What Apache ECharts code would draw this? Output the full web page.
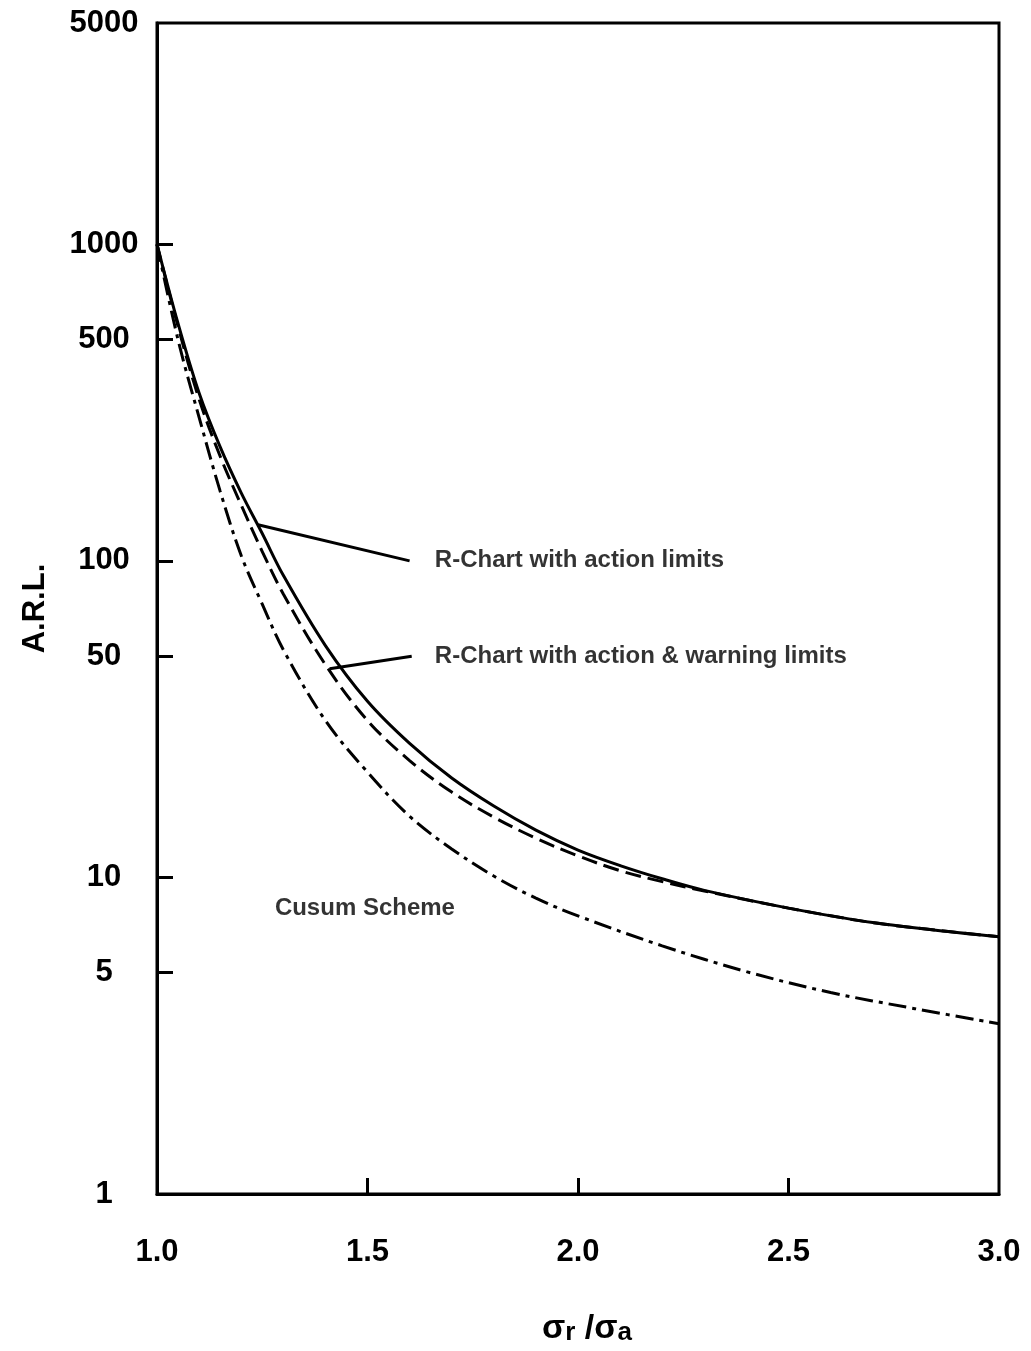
<!DOCTYPE html>
<html>
<head>
<meta charset="utf-8">
<script src="https://cdn.jsdelivr.net/npm/echarts@6/dist/echarts.min.js"></script>
<style>
html,body{margin:0;padding:0;background:#fff;}
#chart{width:1031px;height:1351px;}
</style>
</head>
<body>
<div id="chart"></div>
<script>
// ---- data ----
const sigmaR = [1.0,1.05,1.1,1.15,1.2,1.25,1.3,1.4,1.5,1.6,1.7,1.8,1.9,2.0,2.1,2.2,2.3,2.5,2.7,2.9,3.0];
const arlActionLimits = [1000,562,339,229,164,122,90,54,36,26.5,20.6,16.8,14.1,12.2,10.9,9.9,9.1,8.0,7.2,6.7,6.5];
const arlActionWarning = [1000,550,324,214,150,107,78.6,47,31.3,23.4,18.6,15.5,13.3,11.7,10.5,9.7,9.06,8.0,7.2,6.7,6.5];
const sigmaCusum = [1.0,1.05,1.1,1.15,1.2,1.25,1.3,1.4,1.5,1.6,1.7,1.8,1.9,2.0,2.2,2.4,2.6,2.8,3.0];
const arlCusum = [1000,499,284,166,104,73,52.4,31.3,21.5,15.6,12.3,10.1,8.6,7.56,6.08,5.04,4.33,3.85,3.45];

const yLabelValues = [1,5,10,50,100,500,1000,5000];
const yTickValues = [5,10,50,100,500,1000];
const xTickLabels = [1.0,1.5,2.0,2.5,3.0];
const xTickValues = [1.5,2.0,2.5];

const annotationTexts = ['R-Chart with action limits','R-Chart with action & warning limits','Cusum Scheme'];
const annotationX = [1.66,1.66,1.28];
const annotationY = [100,50,8];
const pointerFrom = [[1.24,130],[1.41,45.6]];
const pointerTo = [[1.60,100],[1.605,50]];

const FONT = '"Liberation Sans", Arial, Helvetica, sans-serif';

function pairs(xs, ys){ return xs.map((x,i)=>[x, ys[i]]); }

const chart = echarts.init(document.getElementById('chart'), null, {renderer:'canvas'});
chart.setOption({
  backgroundColor:'#fff',
  animation:false,
  grid:{left:157,right:32,top:23,bottom:152,show:true,borderColor:'#000',borderWidth:3,backgroundColor:'transparent'},
  xAxis:{
    type:'value',min:1,max:3,interval:0.5,
    axisLine:{show:true,lineStyle:{color:'#000',width:3}},
    axisTick:{show:true,inside:true,length:16,lineStyle:{color:'#000',width:3},customValues:xTickValues},
    axisLabel:{color:'#000',fontSize:31,fontWeight:'bold',fontFamily:FONT,margin:43,formatter:v=>Number(v).toFixed(1),customValues:xTickLabels},
    splitLine:{show:false},
    name:'{s|σ}{sub|r}{s| /σ}{sub|a}',
    nameLocation:'middle',nameGap:114,
    nameTextStyle:{color:'#000',fontFamily:FONT,padding:[0,0,0,18],rich:{
      s:{fontSize:34,fontWeight:'bold',fontFamily:FONT,color:'#000',verticalAlign:'bottom'},
      sub:{fontSize:26,fontWeight:'bold',fontFamily:FONT,color:'#000',padding:[12,0,0,0],verticalAlign:'bottom'}
    }}
  },
  yAxis:{
    type:'log',logBase:10,min:1,max:5000,
    axisLine:{show:true,lineStyle:{color:'#000',width:3}},
    axisTick:{show:true,inside:true,length:16,lineStyle:{color:'#000',width:3},customValues:yTickValues},
    axisLabel:{color:'#000',fontSize:31,fontWeight:'bold',fontFamily:FONT,align:'center',margin:53,formatter:v=>String(Math.round(v)),customValues:yLabelValues},
    splitLine:{show:false},
    name:'A.R.L.',nameLocation:'middle',nameGap:106,
    nameTextStyle:{color:'#000',fontSize:31,fontWeight:'bold',fontFamily:FONT}
  },
  series:[
    {type:'line',name:'R-Chart with action & warning limits',data:pairs(sigmaR,arlActionWarning),smooth:0.35,symbol:'none',
     lineStyle:{color:'#000',width:3,type:[16,7]},z:3},
    {type:'line',name:'R-Chart with action limits',data:pairs(sigmaR,arlActionLimits),smooth:0.35,symbol:'none',
     lineStyle:{color:'#000',width:3},z:2},
    {type:'line',name:'Cusum Scheme',data:pairs(sigmaCusum,arlCusum),smooth:0.35,symbol:'none',
     lineStyle:{color:'#000',width:3,type:[18,6,4,6]},z:2},
    {type:'scatter',name:'annotations',symbolSize:0,silent:true,
     data:annotationTexts.map((t,i)=>({value:[annotationX[i],annotationY[i]],name:t})),
     label:{show:true,position:'right',distance:0,formatter:p=>p.name,color:'#000',fontSize:24,fontWeight:'bold',fontFamily:FONT},
     markLine:{silent:true,symbol:'none',label:{show:false},lineStyle:{color:'#000',width:3,type:'solid'},
       data:pointerFrom.map((f,i)=>[{coord:f},{coord:pointerTo[i]}])}
    }
  ]
});
</script>
</body>
</html>
